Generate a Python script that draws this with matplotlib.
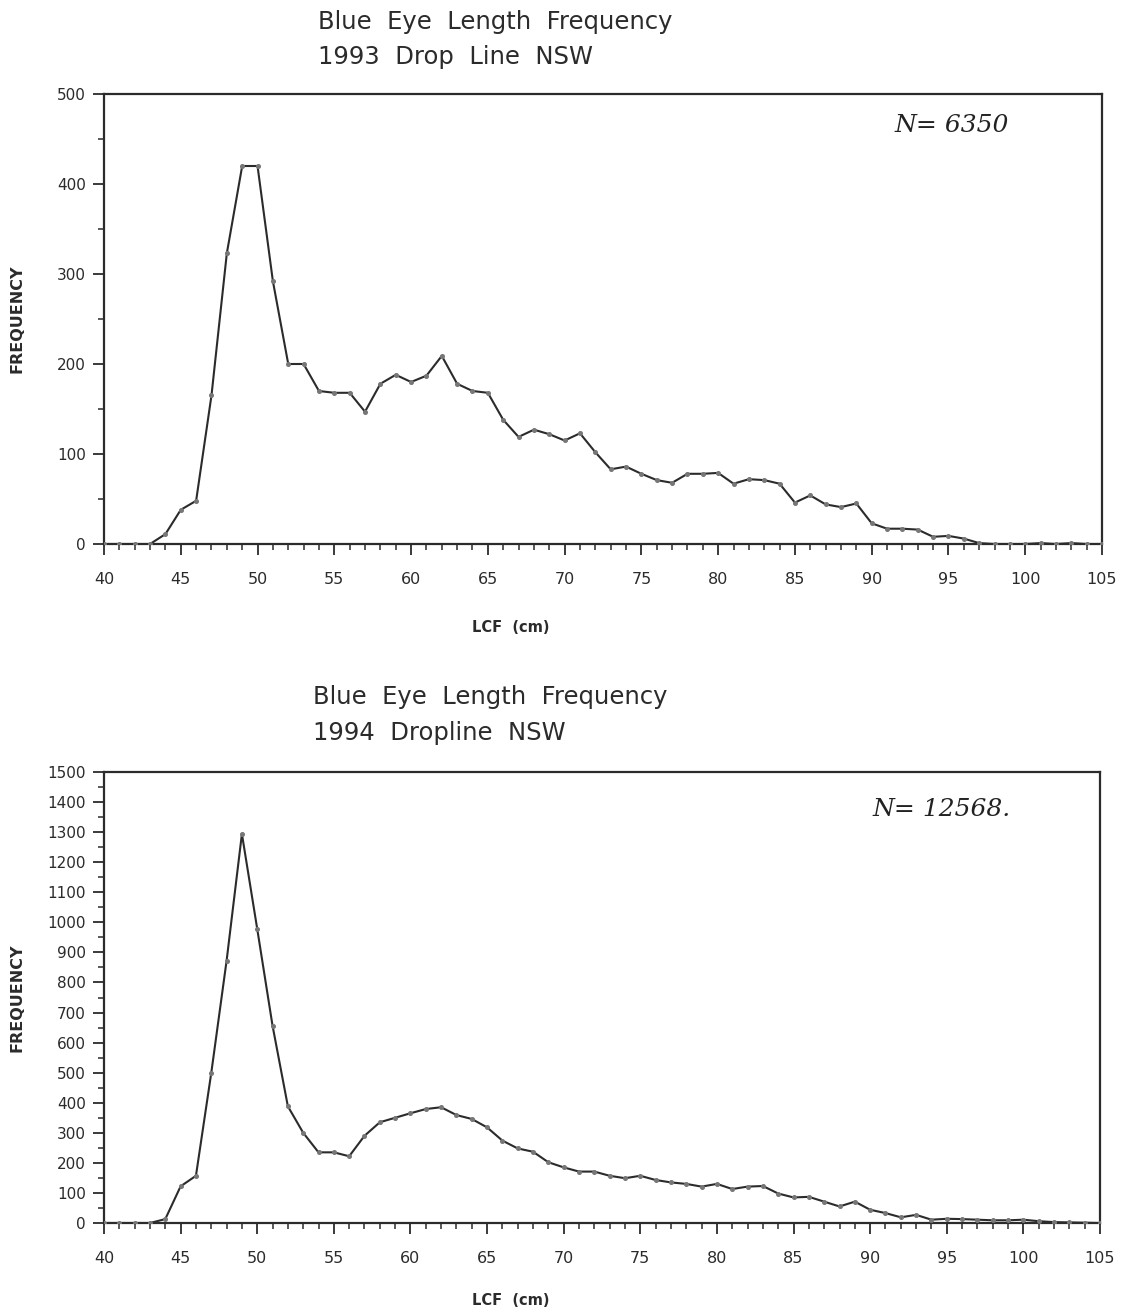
"""Blue Eye length frequency, 1993 and 1994 dropline, NSW."""

import matplotlib
matplotlib.use("Agg")
import matplotlib.pyplot as plt
from matplotlib.ticker import MultipleLocator

# length classes (cm)
lcf = list(range(40, 106))

freq_1993 = [0, 0, 0, 0, 11, 38, 48, 165, 323, 420,
             420, 292, 200, 200, 170, 168, 168, 147, 178, 188,
             180, 187, 209, 178, 170, 168, 138, 119, 127, 122,
             115, 123, 102, 83, 86, 78, 71, 68, 78, 78,
             79, 67, 72, 71, 67, 46, 54, 44, 41, 45,
             23, 17, 17, 16, 8, 9, 6, 1, 0, 0,
             0, 1, 0, 1, 0, 0]

freq_1994 = [0, 0, 0, 0, 13, 122, 157, 499, 872, 1294,
             978, 656, 388, 300, 235, 235, 222, 290, 335, 350,
             365, 379, 385, 359, 346, 318, 274, 248, 237, 202,
             185, 171, 171, 157, 149, 157, 143, 135, 130, 121,
             130, 113, 121, 123, 98, 85, 87, 71, 55, 71,
             44, 33, 19, 27, 11, 14, 13, 11, 9, 9,
             11, 6, 3, 2, 1, 0]

titles = [("Blue  Eye  Length  Frequency", "1993  Drop  Line  NSW"),
          ("Blue  Eye  Length  Frequency", "1994  Dropline  NSW")]
notes = ["N= 6350", "N= 12568."]

INK = "#2b2b2b"

fig = plt.figure(figsize=(11.26, 13.12), dpi=100)
W, H = 1126, 1312


def _axes(left, top, right, bottom):
    return fig.add_axes([left / W, 1 - bottom / H, (right - left) / W, (bottom - top) / H])


def _panel(ax, y, ymax, ymajor, xlab_y):
    ax.plot(lcf, y, color=INK, lw=1.5, marker="o", ms=2.6,
            mfc="#777777", mec="#777777", zorder=3)
    ax.set_xlim(40, 105)
    ax.set_ylim(0, ymax)
    ax.xaxis.set_major_locator(MultipleLocator(5))
    ax.xaxis.set_minor_locator(MultipleLocator(1))
    ax.yaxis.set_major_locator(MultipleLocator(ymajor))
    ax.yaxis.set_minor_locator(MultipleLocator(ymajor / 2))
    ax.tick_params(axis="x", which="major", direction="out", length=8, width=1.3,
                   pad=12, labelsize=11.5, colors=INK)
    ax.tick_params(axis="x", which="minor", direction="out", length=4, width=1.1, colors=INK)
    ax.tick_params(axis="y", which="major", direction="out", length=8, width=1.3,
                   pad=5, labelsize=11, colors=INK)
    ax.tick_params(axis="y", which="minor", direction="out", length=4, width=1.1, colors=INK)
    for sp in ax.spines.values():
        sp.set_color(INK)
        sp.set_linewidth(1.6)
    ax.set_ylabel("FREQUENCY", fontsize=11.5, fontweight="bold", color=INK)
    ax.yaxis.set_label_coords(-0.080, 0.5)
    ax.set_xlabel("LCF  (cm)", fontsize=10.5, fontweight="bold", color=INK)
    ax.xaxis.set_label_coords(0.408, xlab_y)


ax1 = _axes(104, 94, 1102, 544)
_panel(ax1, freq_1993, 500, 100, -0.168)
fig.text(318 / W, 1 - 22 / H, titles[0][0], fontsize=17.5, color=INK, va="center", ha="left")
fig.text(318 / W, 1 - 57 / H, titles[0][1], fontsize=17.5, color=INK, va="center", ha="left")
fig.text(895 / W, 1 - 125 / H, notes[0], fontsize=18, style="italic",
         family="DejaVu Serif", color="#222222", va="center")

ax2 = _axes(104, 772, 1100, 1223)
_panel(ax2, freq_1994, 1500, 100, -0.155)
fig.text(313 / W, 1 - 697 / H, titles[1][0], fontsize=17.5, color=INK, va="center", ha="left")
fig.text(313 / W, 1 - 733 / H, titles[1][1], fontsize=17.5, color=INK, va="center", ha="left")
fig.text(872 / W, 1 - 810 / H, notes[1], fontsize=18, style="italic",
         family="DejaVu Serif", color="#222222", va="center")

fig.savefig("out.png", dpi=100, facecolor="white")
